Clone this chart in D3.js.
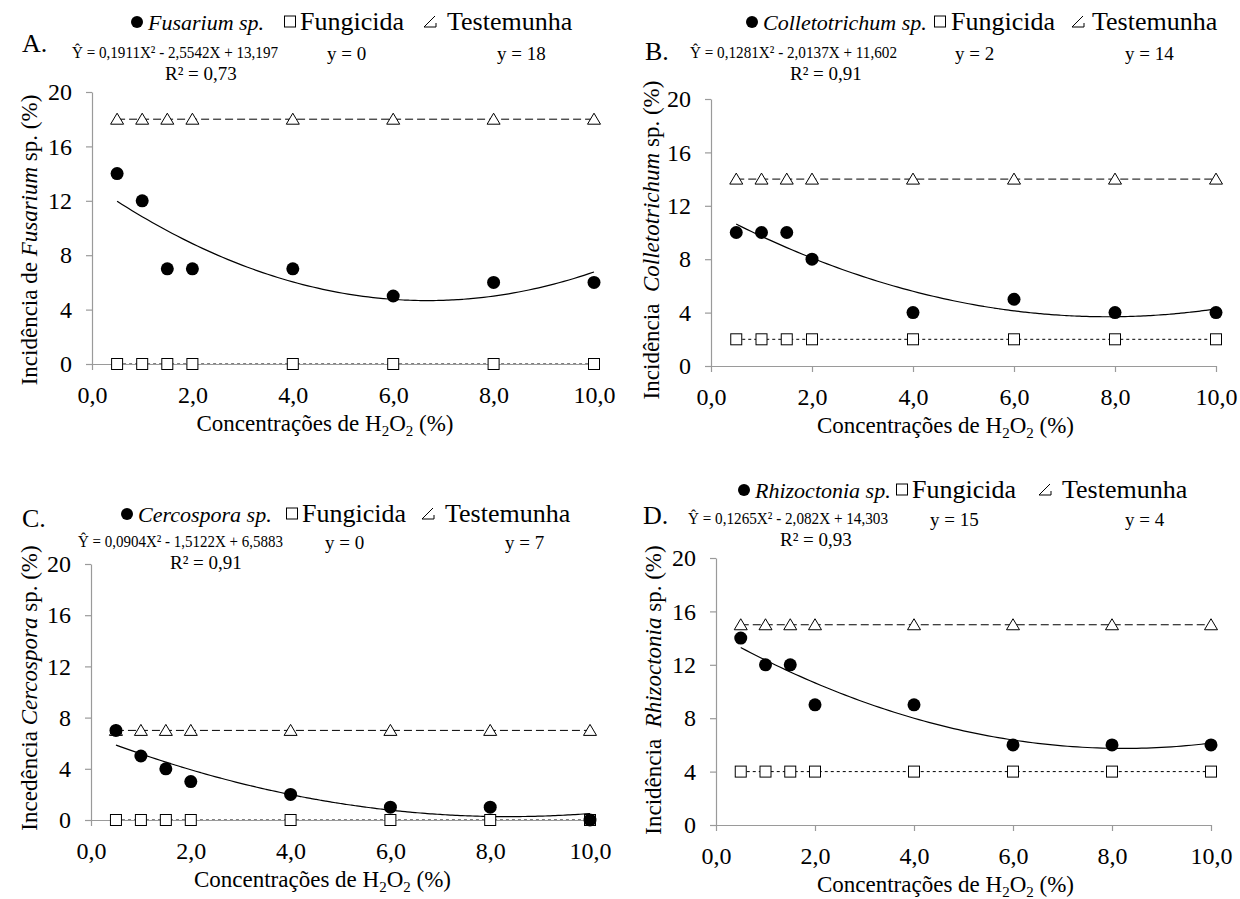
<!DOCTYPE html>
<html>
<head>
<meta charset="utf-8">
<script src="https://cdn.jsdelivr.net/npm/d3@7"></script>
<style>
  body { margin: 0; background: #fff; }
  svg text { font-family: "Liberation Serif", "DejaVu Serif", serif; fill: #000; }
</style>
</head>
<body>
<svg id="chart" width="1240" height="899"></svg>
<script>
// concentrations of H2O2 (%)
const xValues = [0.5, 1, 1.5, 2, 4, 6, 8, 10];

// incidence of each pathogen
const fusarium = [14, 12, 7, 7, 7, 5, 6, 6];
const colletotrichum = [10, 10, 10, 8, 4, 5, 4, 4];
const cercospora = [7, 5, 4, 3, 2, 1, 1, 0];
const rhizoctonia = [14, 12, 12, 9, 9, 6, 6, 6];

// constant levels for the control treatments
const fungicidaLevels = [0, 2, 0, 4];
const testemunhaLevels = [18, 14, 7, 15];

// fitted quadratic coefficients [a, b, c] from the equations
const fits = [
    [0.1911, -2.5542, 13.197],
    [0.1281, -2.0137, 11.602],
    [0.0904, -1.5122, 6.5883],
    [0.1265, -2.082, 14.303]
];

const letters = ["A.", "B.", "C.", "D."];
const pathogenNames = ["Fusarium sp.", "Colletotrichum sp.", "Cercospora sp.", "Rhizoctonia sp."];
const equations = [
    "Ŷ = 0,1911X² - 2,5542X + 13,197",
    "Ŷ = 0,1281X² - 2,0137X + 11,602",
    "Ŷ = 0,0904X² - 1,5122X + 6,5883",
    "Ŷ = 0,1265X² - 2,082X + 14,303"
];
const r2Labels = ["R² = 0,73", "R² = 0,91", "R² = 0,91", "R² = 0,93"];
const fungicidaLabels = ["y = 0", "y = 2", "y = 0", "y = 15"];
const testemunhaLabels = ["y = 18", "y = 14", "y = 7", "y = 4"];
const yTitlePre = ["Incidência de ", "Incidência  ", "Incedência ", "Incidência  "];
const yTitleItalic = ["Fusarium", "Colletotrichum", "Cercospora", "Rhizoctonia"];

const xTicks = [0, 2, 4, 6, 8, 10];
const yTicks = [0, 4, 8, 12, 16, 20];

const series = [fusarium, colletotrichum, cercospora, rhizoctonia];

// panel frames (plot area in page pixels) and header placement
const frames = [
    { x0: 92, x1: 594, y0: 364, y1: 92, lx: 22, ly: 52, tx: 37, ty: 240, legY: 30, eqY: 58,
      legX: [137, 148, 290, 300, 430, 447], eqX: [72, 327, 497, 165], eqW: 206 },
    { x0: 711, x1: 1216, y0: 366, y1: 99, lx: 645, ly: 60, tx: 659, ty: 240, legY: 30, eqY: 58,
      legX: [752, 763, 940, 951, 1078, 1092], eqX: [690, 955, 1125, 790], eqW: 207 },
    { x0: 91, x1: 590, y0: 820, y1: 564, lx: 22, ly: 527, tx: 37, ty: 688, legY: 522, eqY: 547,
      legX: [127, 138, 292, 302, 428, 445], eqX: [78, 325, 505, 170], eqW: 205 },
    { x0: 716, x1: 1211, y0: 825, y1: 558, lx: 643, ly: 524, tx: 661, ty: 690, legY: 498, eqY: 524,
      legX: [744, 755, 902, 912, 1045, 1062], eqX: [688, 930, 1125, 780], eqW: 200 }
];

const svg = d3.select("#chart");

frames.forEach((f, i) => drawPanel(i, f));

function drawPanel(i, f) {
    const x = d3.scaleLinear().domain([0, 10]).range([f.x0, f.x1]);
    const y = d3.scaleLinear().domain([0, 20]).range([f.y0, f.y1]);
    const g = svg.append("g");

    const pts = xValues.map((v, k) => ({ x: v, y: series[i][k] }));
    const line = d3.line().x(d => x(d.x)).y(d => y(d.y));

    // control lines
    const fung = xValues.map(v => ({ x: v, y: fungicidaLevels[i] }));
    const test = xValues.map(v => ({ x: v, y: testemunhaLevels[i] }));
    g.append("path").attr("d", line(fung)).attr("fill", "none")
        .attr("stroke", "#000").attr("stroke-width", 1).attr("stroke-dasharray", "3,3");
    g.append("path").attr("d", line(test)).attr("fill", "none")
        .attr("stroke", "#000").attr("stroke-width", 1).attr("stroke-dasharray", "8,4");

    // axes (drawn over the control lines, like the original)
    const yAxis = g.append("g")
        .attr("transform", `translate(${f.x0},0)`)
        .call(d3.axisLeft(y).tickValues(yTicks).tickSize(6).tickSizeOuter(0).tickPadding(14));
    const xAxis = g.append("g")
        .attr("transform", `translate(0,${f.y0})`)
        .call(d3.axisBottom(x).tickValues(xTicks).tickSize(6).tickSizeOuter(0).tickPadding(16)
            .tickFormat(d => d.toFixed(1).replace(".", ",")));
    [yAxis, xAxis].forEach(a => {
        a.attr("font-family", null).attr("font-size", null);
        a.select(".domain").attr("stroke", "#9a9a9a").attr("stroke-width", 1.2);
        a.selectAll(".tick line").attr("stroke", "#9a9a9a").attr("stroke-width", 1.2);
        a.selectAll(".tick text").style("font-size", "24px").attr("fill", "#000");
    });

    // fitted curve
    const [a, b, c] = fits[i];
    const curve = d3.range(0.5, 10.0001, 0.1).map(v => ({ x: v, y: a * v * v + b * v + c }));
    g.append("path").attr("d", line.curve(d3.curveBasis)(curve)).attr("fill", "none")
        .attr("stroke", "#000").attr("stroke-width", 1.2);

    // markers
    g.selectAll(".sq").data(fung).enter().append("rect")
        .attr("x", d => x(d.x) - 5.5).attr("y", d => y(d.y) - 5.5)
        .attr("width", 11).attr("height", 11)
        .attr("fill", "#fff").attr("stroke", "#000").attr("stroke-width", 1);
    g.selectAll(".tri").data(test).enter().append("path")
        .attr("d", d => `M${x(d.x)},${y(d.y) - 6}L${x(d.x) + 6.5},${y(d.y) + 5}L${x(d.x) - 6.5},${y(d.y) + 5}Z`)
        .attr("fill", "#fff").attr("stroke", "#000").attr("stroke-width", 1);
    g.selectAll(".dot").data(pts).enter().append("circle")
        .attr("cx", d => x(d.x)).attr("cy", d => y(d.y)).attr("r", 6.5).attr("fill", "#000");

    // axis titles
    const xt = g.append("text")
        .attr("x", (f.x0 + f.x1) / 2 - 18).attr("y", f.y0 + 67)
        .attr("text-anchor", "middle").style("font-size", "23px");
    xt.append("tspan").text("Concentrações de H");
    xt.append("tspan").text("2").attr("dy", 5).style("font-size", "15px");
    xt.append("tspan").text("O").attr("dy", -5);
    xt.append("tspan").text("2").attr("dy", 5).style("font-size", "15px");
    xt.append("tspan").text(" (%)").attr("dy", -5);

    const yt = g.append("text")
        .attr("transform", `translate(${f.tx},${f.ty}) rotate(-90)`)
        .attr("text-anchor", "middle").style("font-size", "23px")
        .style("white-space", "pre");
    yt.append("tspan").text(yTitlePre[i]);
    yt.append("tspan").text(yTitleItalic[i]).style("font-style", "italic");
    yt.append("tspan").text(" sp. (%)");

    // header: panel letter, legend, equations
    g.append("text").attr("x", f.lx).attr("y", f.ly).text(letters[i]).style("font-size", "26px");

    const lx = f.legX, ly = f.legY;
    g.append("circle").attr("cx", lx[0]).attr("cy", ly - 8).attr("r", 6).attr("fill", "#000");
    g.append("text").attr("x", lx[1]).attr("y", ly).text(pathogenNames[i])
        .style("font-size", "22px").style("font-style", "italic");
    g.append("rect").attr("x", lx[2] - 5.5).attr("y", ly - 14).attr("width", 11).attr("height", 11)
        .attr("fill", "#fff").attr("stroke", "#000");
    g.append("text").attr("x", lx[3]).attr("y", ly).text("Fungicida").style("font-size", "26px");
    g.append("path")
        .attr("d", `M${lx[4] + 5},${ly - 14}L${lx[4] - 6},${ly - 3}L${lx[4] + 6},${ly - 3}L${lx[4] + 6},${ly - 7}`)
        .attr("fill", "none").attr("stroke", "#000");
    g.append("text").attr("x", lx[5]).attr("y", ly).text("Testemunha").style("font-size", "26px");

    const ex = f.eqX, ey = f.eqY;
    g.append("text").attr("x", ex[0]).attr("y", ey).text(equations[i]).style("font-size", "17px")
        .attr("textLength", f.eqW).attr("lengthAdjust", "spacingAndGlyphs");
    g.append("text").attr("x", ex[1]).attr("y", ey + 2).text(fungicidaLabels[i]).style("font-size", "19px");
    g.append("text").attr("x", ex[2]).attr("y", ey + 2).text(testemunhaLabels[i]).style("font-size", "19px");
    g.append("text").attr("x", ex[3]).attr("y", ey + 22).text(r2Labels[i]).style("font-size", "19px");
}
</script>
</body>
</html>
